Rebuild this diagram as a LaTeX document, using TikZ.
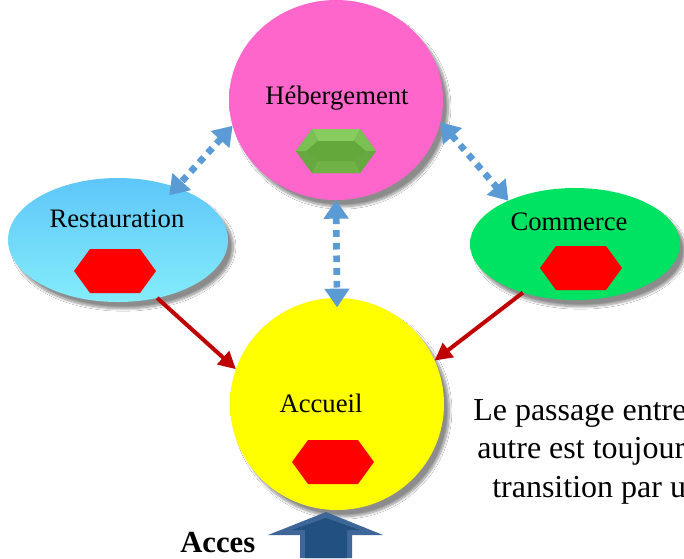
\documentclass[tikz,border=0pt]{standalone}
\usepackage{fontspec}
\setmainfont{Liberation Serif}
\usetikzlibrary{shapes.geometric,arrows.meta,shadows.blur}
\definecolor{pinkM}{HTML}{FF66CC}
\definecolor{pinkD}{HTML}{D84AA8}
\definecolor{blueT}{HTML}{5EC6F8}
\definecolor{blueB}{HTML}{84ECFA}
\definecolor{greenM}{HTML}{00E262}
\definecolor{greenD}{HTML}{00B04E}
\definecolor{yelM}{HTML}{FFFF00}
\definecolor{yelD}{HTML}{DCD800}
\definecolor{arrblue}{HTML}{5B9BD5}
\definecolor{arrred}{HTML}{C00000}
\definecolor{hexred}{HTML}{FF0000}
\definecolor{accesO}{HTML}{3F6699}
\definecolor{accesI}{HTML}{22507F}
\definecolor{gA}{RGB}{100,168,60}
\definecolor{gB}{RGB}{136,204,96}
\definecolor{gC}{RGB}{122,192,82}
\definecolor{gD}{RGB}{104,168,64}
\definecolor{gE}{RGB}{112,178,70}
\pgfdeclareradialshading{pinkball}{\pgfpoint{-6bp}{6bp}}{color(0bp)=(pinkM); color(36bp)=(pinkM); color(56bp)=(pinkD); color(100bp)=(pinkD)}
\pgfdeclareradialshading{greenball}{\pgfpoint{0bp}{0bp}}{color(0bp)=(greenM); color(34bp)=(greenM); color(52bp)=(greenD); color(100bp)=(greenD)}
\pgfdeclareradialshading{yelball}{\pgfpoint{-6bp}{6bp}}{color(0bp)=(yelM); color(38bp)=(yelM); color(56bp)=(yelD); color(100bp)=(yelD)}
\tikzset{
  zone/.style={ellipse, draw=none, inner sep=0pt, outer sep=0pt,
    blur shadow={shadow xshift=4pt, shadow yshift=-5pt, shadow blur steps=12, shadow opacity=45}},
  lbl/.style={font=\fontsize{20}{24}\selectfont, anchor=base, inner sep=0pt},
  txt/.style={font=\fontsize{24}{28}\selectfont, anchor=base west, inner sep=0pt},
  dotarrow/.style={draw=arrblue, line width=5pt, dash pattern=on 5pt off 4.5pt,
    {Triangle[width=18pt,length=14pt]}-{Triangle[width=18pt,length=14pt]}},
  redarrow/.style={draw=arrred, line width=3pt, -{Triangle[width=13pt,length=13pt]}},
  redhex/.pic={\fill[hexred] (-41,0) -- (-25,-22) -- (25,-22) -- (41,0) -- (25,22) -- (-25,22) -- cycle;},
  greenhex/.pic={
    \fill[gA] (-40,0) -- (-24,-22) -- (24,-22) -- (40,0) -- (24,22) -- (-24,22) -- cycle;
    \fill[gB] (-24,-22) -- (24,-22) -- (18,-10) -- (-18,-10) -- cycle;
    \fill[gC] (-40,0) -- (-24,-22) -- (-18,-10) -- (-30,0) -- cycle;
    \fill[gC] (40,0) -- (24,-22) -- (18,-10) -- (30,0) -- cycle;
    \fill[gD] (-40,0) -- (-30,0) -- (-18,10) -- (-24,22) -- cycle;
    \fill[gD] (40,0) -- (30,0) -- (18,10) -- (24,22) -- cycle;
    \fill[gE] (-24,22) -- (-18,10) -- (18,10) -- (24,22) -- cycle;
    \fill[gA] (-30,0) -- (-18,-10) -- (18,-10) -- (30,0) -- (18,10) -- (-18,10) -- cycle;
  }
}
\begin{document}
\begin{tikzpicture}[x=0.75pt,y=-0.75pt]
\useasboundingbox (0,0) rectangle (684,558);
\fill[white] (0,0) rectangle (684,558);

% zones
\node[zone, minimum width=160.5pt, minimum height=150pt, shade, shading=pinkball] (heb) at (336,100) {};
\node[zone, minimum width=165pt, minimum height=93pt, top color=blueT, bottom color=blueB] (rest) at (118,240) {};
\node[zone, minimum width=157.5pt, minimum height=84pt, shade, shading=greenball] (com) at (575,244) {};
\node[zone, minimum width=160.5pt, minimum height=159pt, shade, shading=yelball] (acc) at (337,404) {};

% hexagons
\pic at (336,151) {greenhex};
\pic at (115,271) {redhex};
\pic at (581,268) {redhex};
\pic at (333,462) {redhex};

% labels
\node[lbl] (lheb) at (337,104) {Hébergement};
\node[lbl] (lrest) at (117,227) {Restauration};
\node[lbl] (lcom) at (569,230) {Commerce};
\node[lbl] (lacc) at (321,412) {Accueil};

% connectors
\draw[dotarrow, shorten >=-8pt] (heb.194) -- (rest.42);
\draw[dotarrow] (heb.-12.5) -- (com.147);
\draw[dotarrow, shorten >=-7pt] (heb.south) -- (acc.north);
\draw[redarrow] (rest.-56) -- (acc.161);
\draw[redarrow] (com.223) -- (acc.24);

% right text (cut at the right edge, as in the reference)
\node[txt] (t1) at (473,420) {Le passage entre};
\node[txt] (t2) at (477,458) {autre est toujour};
\node[txt] (t3) at (492,497) {transition par u};

% access arrow
\fill[accesO] (300,558) -- (300,535) -- (268,535) -- (326,512) -- (383,535) -- (352,535) -- (352,558) -- cycle;
\fill[accesI] (305,558) -- (305,530) -- (292,530) -- (326,518) -- (360,530) -- (347,530) -- (347,558) -- cycle;
\node[font=\bfseries\fontsize{23}{27}\selectfont, anchor=base west, inner sep=0pt] (acces) at (180,552) {Acces};
\end{tikzpicture}
\end{document}
